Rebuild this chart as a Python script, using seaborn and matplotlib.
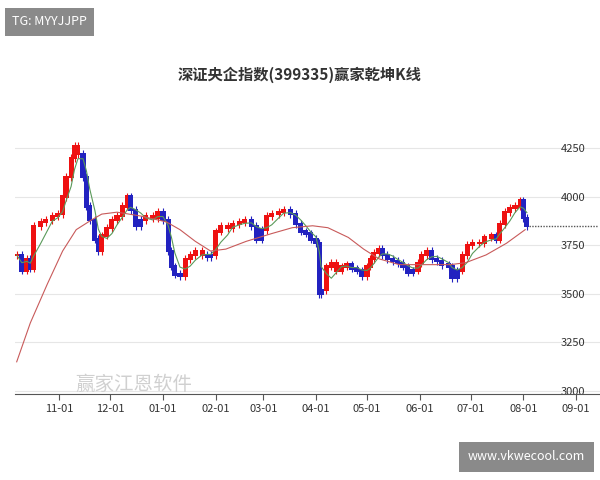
import matplotlib
matplotlib.use("Agg")
import matplotlib.pyplot as plt
import seaborn as sns
import pandas as pd
import numpy as np

plt.rcParams["font.family"] = ["Noto Sans CJK SC", "DejaVu Sans"]

dates = ["2014-10-07","2014-10-10","2014-10-13","2014-10-15","2014-10-17","2014-10-21","2014-10-24","2014-10-28","2014-10-31",
"2014-11-03","2014-11-05","2014-11-08","2014-11-10","2014-11-12","2014-11-15","2014-11-17","2014-11-19","2014-11-22","2014-11-24",
"2014-11-26","2014-11-29","2014-12-02","2014-12-05","2014-12-08","2014-12-11","2014-12-13","2014-12-16","2014-12-19","2014-12-22",
"2014-12-26","2014-12-29","2015-01-01","2015-01-04","2015-01-06","2015-01-08","2015-01-11","2015-01-14","2015-01-17","2015-01-20",
"2015-01-24","2015-01-27","2015-01-29","2015-02-01","2015-02-04","2015-02-08","2015-02-11","2015-02-15","2015-02-18","2015-02-22",
"2015-02-25","2015-02-28","2015-03-03","2015-03-06","2015-03-10","2015-03-13","2015-03-17","2015-03-20","2015-03-23","2015-03-26",
"2015-03-29","2015-04-01","2015-04-03","2015-04-04","2015-04-07","2015-04-10","2015-04-13","2015-04-16","2015-04-19","2015-04-22",
"2015-04-25","2015-04-28","2015-05-01","2015-05-03","2015-05-05","2015-05-08","2015-05-10","2015-05-13","2015-05-16","2015-05-19",
"2015-05-22","2015-05-25","2015-05-28","2015-05-31","2015-06-02","2015-06-05","2015-06-08","2015-06-11","2015-06-14","2015-06-18",
"2015-06-20","2015-06-23","2015-06-26","2015-06-29","2015-07-02","2015-07-06","2015-07-09","2015-07-13","2015-07-16","2015-07-18",
"2015-07-21","2015-07-24","2015-07-27","2015-07-30","2015-08-01","2015-08-03"]
closes = [3700,3620,3680,3630,3850,3870,3880,3900,3910,
4000,4100,4200,4260,4220,4100,3950,3880,3780,3720,
3800,3840,3880,3900,3950,4000,3930,3850,3880,3900,
3890,3920,3880,3720,3640,3600,3590,3680,3700,3720,
3700,3690,3700,3820,3850,3840,3860,3870,3880,3850,
3780,3830,3900,3910,3920,3930,3910,3860,3820,3810,
3780,3760,3500,3520,3640,3660,3620,3640,3650,3630,
3620,3590,3640,3680,3710,3730,3700,3680,3670,3660,
3640,3610,3620,3660,3700,3720,3680,3670,3650,3640,
3580,3620,3700,3750,3760,3760,3790,3800,3780,3860,
3920,3940,3950,3980,3890,3850]

ma_dates = ["2014-10-07","2014-10-15","2014-10-25","2014-11-03","2014-11-11","2014-11-20","2014-11-26","2014-12-05","2014-12-19",
"2015-01-03","2015-01-11","2015-01-20","2015-01-29","2015-02-07","2015-02-19","2015-03-06","2015-03-18","2015-03-30","2015-04-08",
"2015-04-20","2015-04-29","2015-05-08","2015-05-20","2015-06-05","2015-06-19","2015-06-28","2015-07-10","2015-07-22","2015-08-02"]
ma_long = [3150,3350,3550,3720,3830,3880,3910,3920,3900,
3870,3830,3770,3720,3730,3770,3810,3840,3850,3840,
3790,3730,3680,3650,3650,3650,3660,3700,3760,3830]

tick_dates = ["2014-11-01","2014-12-01","2015-01-01","2015-02-01","2015-03-01","2015-04-01","2015-05-01","2015-06-01","2015-07-01","2015-08-01","2015-09-01"]
tick_labels = ["11-01","12-01","01-01","02-01","03-01","04-01","05-01","06-01","07-01","08-01","09-01"]
y_ticks = [3000,3250,3500,3750,4000,4250]
last_close = 3850

df = pd.DataFrame({"date": pd.to_datetime(dates), "close": closes})
df["open"] = df["close"].shift(1).fillna(df["close"])
df["high"] = df[["open","close"]].max(axis=1) + 20
df["low"] = df[["open","close"]].min(axis=1) - 20
df["ma_short"] = df["close"].rolling(4, min_periods=1).mean()
df["col"] = np.where(df["close"] >= df["ma_short"], "#ee1111", "#2222c0")
mdf = pd.DataFrame({"date": pd.to_datetime(ma_dates), "ma": ma_long})

fig = plt.figure(figsize=(6, 4.8), dpi=100)
ax = fig.add_axes([0.025, 0.179, 0.975, 0.545])
ax.vlines(df["date"], df["low"], df["high"], colors=df["col"], linewidth=0.8)
ax.bar(df["date"], (df["close"] - df["open"]).abs() + 12, bottom=df[["open","close"]].min(axis=1) - 6,
       width=3.0, color=df["col"], linewidth=0)
sns.lineplot(data=df, x="date", y="ma_short", ax=ax, color="#5a9a5a", linewidth=0.8)
sns.lineplot(data=mdf, x="date", y="ma", ax=ax, color="#c85a5a", linewidth=0.8)
ax.hlines(last_close, pd.Timestamp("2015-08-04"), pd.Timestamp("2015-09-14"), colors="#555555", linestyles=(0, (1, 1)), linewidth=1)

ax.set_xlim(pd.Timestamp("2014-10-06"), pd.Timestamp("2015-09-15"))
ax.set_ylim(2984, 4330)
ax.set_xticks(pd.to_datetime(tick_dates))
ax.set_xticklabels(tick_labels, fontsize=8, color="#333333")
ax.set_yticks(y_ticks)
ax.yaxis.tick_right()
ax.tick_params(axis="y", length=0, labelsize=8, labelcolor="#333333", pad=-28)
ax.tick_params(axis="x", length=4, color="#555555")
ax.grid(axis="y", color="#e6e6e6", linewidth=0.8)
ax.set_axisbelow(True)
for s in ["top", "right", "left"]:
    ax.spines[s].set_visible(False)
ax.spines["bottom"].set_color("#555555")
ax.set_xlabel("")
ax.set_ylabel("")

fig.text(0.5, 0.845, "深证央企指数(399335)赢家乾坤K线", ha="center", va="center", fontsize=11, fontweight="bold", color="#333333")
fig.text(0.02, 0.955, "TG: MYYJJPP", ha="left", va="center", fontsize=9, color="white",
         bbox=dict(boxstyle="square,pad=0.6", facecolor="#8a8a8a", edgecolor="none"))
fig.text(0.975, 0.048, "www.vkwecool.com", ha="right", va="center", fontsize=9, color="white",
         bbox=dict(boxstyle="square,pad=0.7", facecolor="#8a8a8a", edgecolor="none"))
fig.text(0.125, 0.2, "赢家江恩软件", ha="left", va="center", fontsize=14, color="#d0d0d0")
fig.savefig("out.png", dpi=100)
